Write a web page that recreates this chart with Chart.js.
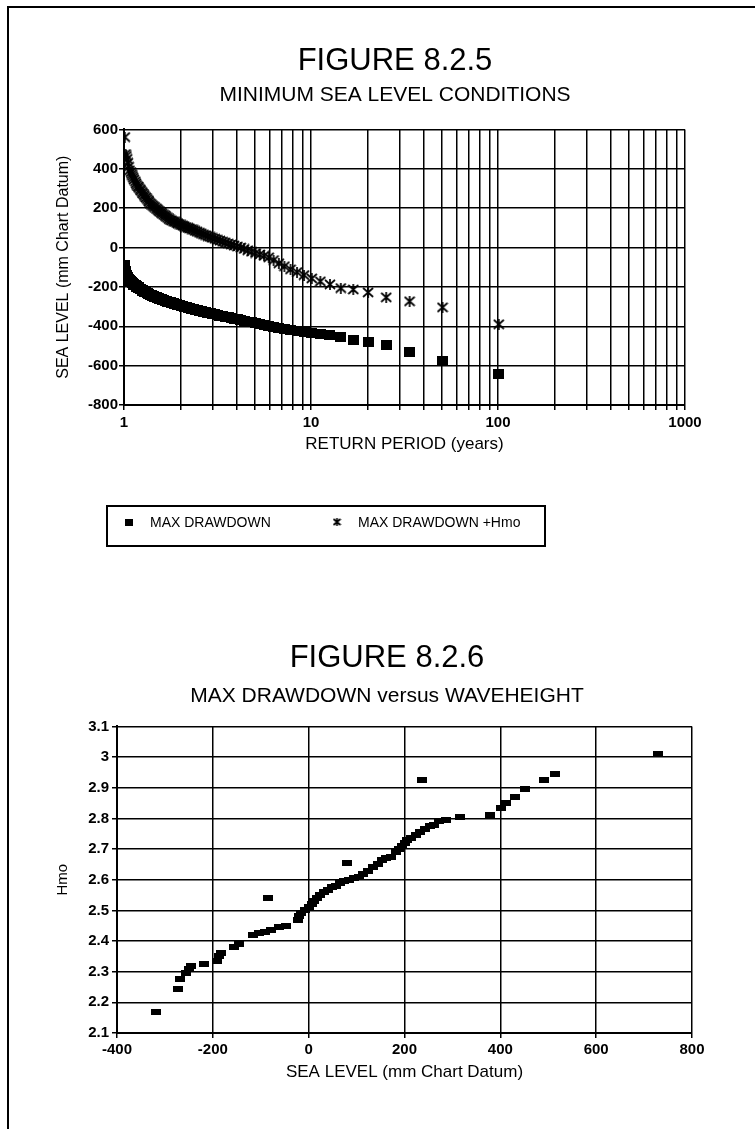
<!DOCTYPE html>
<html>
<head>
<meta charset="utf-8">
<script src="https://cdn.jsdelivr.net/npm/chart.js@4.4.0/dist/chart.umd.min.js"></script>
<style>
    html, body { margin: 0; padding: 0; background: #fff; }
    body { width: 755px; height: 1129px; position: relative; overflow: hidden; }
    .frame { position: absolute; left: 7px; top: 6px; width: 800px; height: 1200px; border-left: 2px solid #000; border-top: 2px solid #000; }
    .box { position: absolute; left: 0; width: 755px; }
    #box1 { top: 0; height: 570px; }
    #box2 { top: 570px; height: 559px; }
</style>
</head>
<body>
<div class="frame"></div>
<div class="box" id="box1"><canvas id="fig825"></canvas></div>
<div class="box" id="box2"><canvas id="fig826"></canvas></div>
<script>
// figure 8.2.5 - return period (years) for rank 1..100
var returnPeriod = [101.00, 50.50, 33.67, 25.25, 20.20, 16.83, 14.43, 12.63, 11.22, 10.10,
    9.18, 8.42, 7.77, 7.21, 6.73, 6.31, 5.94, 5.61, 5.32, 5.05,
    4.81, 4.59, 4.39, 4.21, 4.04, 3.88, 3.74, 3.61, 3.48, 3.37,
    3.26, 3.16, 3.06, 2.97, 2.89, 2.81, 2.73, 2.66, 2.59, 2.53,
    2.46, 2.40, 2.35, 2.30, 2.24, 2.20, 2.15, 2.10, 2.06, 2.02,
    1.98, 1.94, 1.91, 1.87, 1.84, 1.80, 1.77, 1.74, 1.71, 1.68,
    1.66, 1.63, 1.60, 1.58, 1.55, 1.53, 1.51, 1.49, 1.46, 1.44,
    1.42, 1.40, 1.38, 1.36, 1.35, 1.33, 1.31, 1.29, 1.28, 1.26,
    1.25, 1.23, 1.22, 1.20, 1.19, 1.17, 1.16, 1.15, 1.13, 1.12,
    1.11, 1.10, 1.09, 1.07, 1.06, 1.05, 1.04, 1.03, 1.02, 1.01];

var maxDrawdown = [-643, -577, -530, -497, -481, -470, -456, -446, -440, -434,
    -429, -424, -419, -413, -407, -402, -397, -392, -388, -384,
    -380, -376, -372, -369, -365, -362, -358, -355, -352, -349,
    -346, -343, -340, -337, -334, -331, -328, -326, -323, -320,
    -318, -315, -313, -310, -308, -305, -303, -300, -298, -295,
    -293, -291, -288, -286, -284, -281, -279, -277, -275, -272,
    -270, -268, -265, -263, -261, -258, -256, -253, -251, -248,
    -246, -243, -240, -237, -234, -231, -228, -225, -222, -219,
    -216, -213, -210, -206, -203, -199, -196, -192, -188, -184,
    -180, -176, -171, -166, -161, -155, -148, -138, -120, -90];

var maxDrawdownHmo = [-390, -304, -273, -253, -228, -213, -206, -187, -172, -157,
    -140, -125, -111, -95, -80, -64, -50, -42, -35, -28,
    -21, -14, -7, 0, 5, 10, 15, 20, 25, 30,
    35, 40, 45, 49, 54, 58, 63, 67, 72, 76,
    81, 85, 90, 94, 97, 101, 104, 108, 112, 115,
    119, 122, 126, 130, 133, 137, 140, 145, 151, 156,
    162, 167, 172, 178, 183, 188, 194, 199, 205, 210,
    215, 221, 226, 233, 240, 247, 254, 261, 268, 275,
    282, 289, 296, 303, 310, 317, 326, 336, 345, 355,
    364, 373, 383, 392, 410, 430, 450, 465, 475, 561];

var returnTicks = [1, 2, 3, 4, 5, 6, 7, 8, 9, 10, 20, 30, 40, 50, 60, 70, 80, 90,
    100, 200, 300, 400, 500, 600, 700, 800, 900, 1000];
var returnLabels = [1, 10, 100, 1000];
var levelTicks = [-800, -600, -400, -200, 0, 200, 400, 600];

// figure 8.2.6 - sea level vs Hmo
var seaLevel = [-318, -272, -268, -256, -250, -246, -219, -192, -188, -182,
    -156, -146, -116, -104, -92, -84, -78, -62, -48, -22,
    -20, -16, -8, 0, 6, 12, 18, 24, 32, 40,
    48, 58, 66, 74, 80, 84, 94, 104, 114, 124,
    134, 144, 152, 162, 172, 182, 188, 194, 200, 206,
    214, 224, 232, 236, 242, 254, 262, 272, 286, 316,
    378, 402, 412, 430, 452, 492, 514, 730];
var waveHeight = [2.17, 2.245, 2.275, 2.295, 2.31, 2.32, 2.325, 2.335, 2.35, 2.36,
    2.38, 2.39, 2.42, 2.425, 2.43, 2.54, 2.435, 2.445, 2.45, 2.47,
    2.48, 2.49, 2.50, 2.51, 2.52, 2.53, 2.54, 2.55, 2.56, 2.565,
    2.575, 2.58, 2.59, 2.595, 2.655, 2.60, 2.605, 2.61, 2.62, 2.63,
    2.64, 2.65, 2.665, 2.67, 2.675, 2.69, 2.70, 2.71, 2.72, 2.73,
    2.735, 2.745, 2.755, 2.925, 2.765, 2.775, 2.78, 2.79, 2.795, 2.805,
    2.81, 2.835, 2.85, 2.87, 2.895, 2.925, 2.945, 3.01];
var seaTicks = [-400, -200, 0, 200, 400, 600, 800];
var hmoTicks = [2.1, 2.2, 2.3, 2.4, 2.5, 2.6, 2.7, 2.8, 2.9, 3.0, 3.1];

var FONT = '"Liberation Sans", Arial, Helvetica, sans-serif';
Chart.defaults.font.family = FONT;
Chart.defaults.color = '#000';

function marker(w, h, draw) {
    var c = document.createElement('canvas');
    c.width = w;
    c.height = h;
    draw(c.getContext('2d'), w, h);
    return c;
}
function solid(g, w, h) { g.fillStyle = '#000'; g.fillRect(0, 0, w, h); }
function asterisk(g, w, h) {
    g.strokeStyle = '#000';
    g.lineWidth = 1.7;
    g.beginPath();
    g.moveTo(1, 1); g.lineTo(w - 1, h - 1);
    g.moveTo(w - 1, 1); g.lineTo(1, h - 1);
    g.moveTo(w / 2, 0); g.lineTo(w / 2, h);
    g.stroke();
}

var squareMark = marker(11, 10, solid);
var starMark = marker(12, 11, asterisk);
var squareKey = marker(8, 7, solid);
var starKey = marker(9, 8, asterisk);
var barMark = marker(10, 6, solid);

function points(xs, ys) {
    return xs.map(function(x, i) { return { x: x, y: ys[i] }; });
}
function useTicks(list) {
    return function(scale) {
        scale.ticks = list.map(function(v) { return { value: v }; });
    };
}

var tickFont = { size: 15, weight: 'bold' };
var grid = { color: '#000', lineWidth: 1.5, tickLength: 5 };
var border = { color: '#000', width: 2 };

// boxed legend under figure 8.2.5
var legendBox = {
    id: 'legendBox',
    afterDraw: function(chart) {
        var g = chart.ctx;
        var keys = [squareKey, starKey];
        var xs = [129, 337];
        g.save();
        g.lineWidth = 2;
        g.strokeStyle = '#000';
        g.strokeRect(107, 506, 438, 40);
        g.font = '14px ' + FONT;
        g.fillStyle = '#000';
        g.textBaseline = 'middle';
        chart.data.datasets.forEach(function(ds, i) {
            g.drawImage(keys[i], xs[i] - keys[i].width / 2, 522 - keys[i].height / 2);
            g.fillText(ds.label, xs[i] + 21, 523);
        });
        g.restore();
    }
};

new Chart(document.getElementById('fig825'), {
    type: 'scatter',
    data: {
        datasets: [
            { label: 'MAX DRAWDOWN', data: points(returnPeriod, maxDrawdown), pointStyle: squareMark, pointRadius: 5 },
            { label: 'MAX DRAWDOWN +Hmo', data: points(returnPeriod, maxDrawdownHmo), pointStyle: starMark, pointRadius: 5 }
        ]
    },
    options: {
        responsive: true,
        maintainAspectRatio: false,
        animation: false,
        events: [],
        layout: { padding: { left: 35, right: 0, top: 0, bottom: 115 } },
        plugins: {
            legend: { display: false },
            tooltip: { enabled: false },
            title: { display: true, text: 'FIGURE 8.2.5', font: { size: 31, weight: 'normal' }, padding: { top: 43, bottom: 0 } },
            subtitle: { display: true, text: 'MINIMUM SEA LEVEL CONDITIONS', font: { size: 21 }, padding: { top: 2, bottom: 22 } }
        },
        scales: {
            x: {
                type: 'logarithmic', min: 1, max: 1000,
                afterBuildTicks: useTicks(returnTicks),
                afterFit: function(s) { s.height = 50; },
                ticks: {
                    autoSkip: false, maxRotation: 0, padding: 4, font: tickFont,
                    callback: function(v) { return returnLabels.indexOf(v) >= 0 ? String(v) : ''; }
                },
                grid: grid, border: border,
                title: { display: true, text: 'RETURN PERIOD (years)', font: { size: 17 }, padding: 0 }
            },
            y: {
                min: -800, max: 600,
                afterBuildTicks: useTicks(levelTicks),
                afterFit: function(s) { s.width = 89; },
                ticks: { padding: 1, font: tickFont },
                grid: grid, border: border,
                title: { display: true, text: 'SEA LEVEL (mm Chart Datum)', font: { size: 16 }, padding: { top: 19, bottom: 0 } }
            },
            pad: {
                position: 'right', display: true,
                afterFit: function(s) { s.width = 70; },
                ticks: { display: false }, grid: { display: false }, border: { display: false }
            }
        }
    },
    plugins: [legendBox]
});

new Chart(document.getElementById('fig826'), {
    type: 'scatter',
    data: {
        datasets: [
            { label: 'Hmo', data: points(seaLevel, waveHeight), pointStyle: barMark, pointRadius: 5 }
        ]
    },
    options: {
        responsive: true,
        maintainAspectRatio: false,
        animation: false,
        events: [],
        layout: { padding: { left: 19, right: 0, top: 0, bottom: 46 } },
        plugins: {
            legend: { display: false },
            tooltip: { enabled: false },
            title: { display: true, text: 'FIGURE 8.2.6', font: { size: 31, weight: 'normal' }, padding: { top: 70, bottom: 0 } },
            subtitle: { display: true, text: 'MAX DRAWDOWN versus WAVEHEIGHT', font: { size: 21 }, padding: { top: 6, bottom: 18 } }
        },
        scales: {
            x: {
                min: -400, max: 800,
                afterBuildTicks: useTicks(seaTicks),
                afterFit: function(s) { s.height = 50; },
                ticks: { maxRotation: 0, padding: 3, font: tickFont },
                grid: grid, border: border,
                title: { display: true, text: 'SEA LEVEL (mm Chart Datum)', font: { size: 17 }, padding: 0 }
            },
            y: {
                min: 2.1, max: 3.1,
                afterBuildTicks: useTicks(hmoTicks),
                afterFit: function(s) { s.width = 98; },
                ticks: {
                    padding: 3, font: tickFont,
                    callback: function(v) { return String(Number(v.toFixed(1))); }
                },
                grid: grid, border: border,
                title: { display: true, text: 'Hmo', font: { size: 15 }, padding: { top: 35, bottom: 0 } }
            },
            pad: {
                position: 'right', display: true,
                afterFit: function(s) { s.width = 63; },
                ticks: { display: false }, grid: { display: false }, border: { display: false }
            }
        }
    }
});
</script>
</body>
</html>
